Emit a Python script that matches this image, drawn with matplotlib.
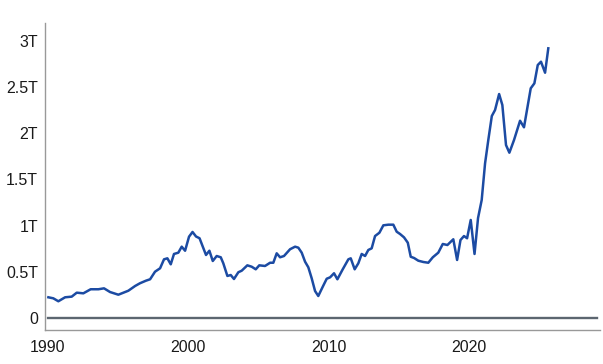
import matplotlib
matplotlib.use("Agg")
import matplotlib.pyplot as plt
from matplotlib.ticker import FuncFormatter

# Valori (anno decimale, trilioni)
years = [
    1990.06, 1990.41, 1990.77, 1991.25, 1991.72, 1992.08, 1992.55, 1993.07, 1993.62, 1994.02,
    1994.45, 1995.04, 1995.75, 1996.23, 1996.58, 1997.01, 1997.30, 1997.65, 1998.01, 1998.29,
    1998.53, 1998.77, 1999.00, 1999.31, 1999.55, 1999.79, 2000.07, 2000.32, 2000.57, 2000.82,
    2001.05, 2001.28, 2001.52, 2001.76, 2002.04, 2002.33, 2002.51, 2002.80, 2003.04, 2003.27,
    2003.58, 2003.82, 2004.22, 2004.53, 2004.82, 2005.07, 2005.48, 2005.84, 2006.07, 2006.31,
    2006.55, 2006.83, 2007.26, 2007.62, 2007.85, 2008.09, 2008.33, 2008.56, 2008.80, 2009.04,
    2009.27, 2009.59, 2009.87, 2010.11, 2010.39, 2010.63, 2011.01, 2011.41, 2011.58, 2011.86,
    2012.12, 2012.36, 2012.60, 2012.83, 2013.07, 2013.31, 2013.62, 2013.90, 2014.26, 2014.61,
    2014.85, 2015.09, 2015.37, 2015.64, 2015.85, 2016.09, 2016.39, 2016.75, 2017.10, 2017.42,
    2017.81, 2018.13, 2018.46, 2018.88, 2019.15, 2019.39, 2019.64, 2019.86, 2020.12, 2020.39,
    2020.64, 2020.90, 2021.14, 2021.37, 2021.62, 2021.85, 2022.14, 2022.37, 2022.63, 2022.87,
    2023.20, 2023.63, 2023.91, 2024.39, 2024.65, 2024.89, 2025.12, 2025.41, 2025.64,
]
values = [
    0.224, 0.213, 0.181, 0.224, 0.231, 0.274, 0.267, 0.311, 0.311, 0.321,
    0.281, 0.252, 0.295, 0.346, 0.376, 0.404, 0.419, 0.501, 0.538, 0.635,
    0.646, 0.581, 0.693, 0.707, 0.772, 0.728, 0.880, 0.931, 0.882, 0.863,
    0.772, 0.682, 0.728, 0.617, 0.671, 0.657, 0.592, 0.455, 0.465, 0.422,
    0.495, 0.512, 0.570, 0.555, 0.527, 0.570, 0.563, 0.598, 0.598, 0.700,
    0.657, 0.671, 0.744, 0.772, 0.761, 0.707, 0.609, 0.549, 0.430, 0.292,
    0.238, 0.339, 0.425, 0.440, 0.484, 0.419, 0.527, 0.635, 0.646, 0.527,
    0.592, 0.693, 0.671, 0.736, 0.754, 0.887, 0.923, 1.003, 1.010, 1.010,
    0.934, 0.909, 0.873, 0.815, 0.663, 0.649, 0.620, 0.606, 0.598, 0.657,
    0.707, 0.801, 0.790, 0.852, 0.628, 0.844, 0.887, 0.863, 1.061, 0.693,
    1.082, 1.277, 1.674, 1.926, 2.186, 2.251, 2.424, 2.305, 1.872, 1.789,
    1.926, 2.135, 2.064, 2.486, 2.540, 2.738, 2.774, 2.655, 2.919,
]

x_ticks = [1990, 2000, 2010, 2020]
y_ticks = [0, 0.5, 1, 1.5, 2, 2.5, 3]

plt.rcParams['font.family'] = ['Liberation Sans', 'DejaVu Sans']

fig = plt.figure(figsize=(6.03, 3.64), dpi=100)
ax = fig.add_axes([45 / 603, 1 - 330 / 364, 555 / 603, 307 / 364])

# Linea dello zero
ax.axhline(0, xmin=0.005, xmax=0.995, color='#5c6670', linewidth=1.7, zorder=1)

# Serie principale
ax.plot(years, values, color='#1c4ba3', linewidth=1.8, solid_joinstyle='round', zorder=2)

ax.set_xlim(1989.82, 2029.32)
ax.set_ylim(-0.13, 3.193)
ax.set_xticks(x_ticks)
ax.set_yticks(y_ticks)


def fmt_t(v, pos):
    if v == 0:
        return '0'
    return f'{v:g}T'


ax.yaxis.set_major_formatter(FuncFormatter(fmt_t))
ax.tick_params(axis='both', length=0, labelsize=11.5, colors='#1a1a1a')
ax.tick_params(axis='y', pad=5)
ax.tick_params(axis='x', pad=7)

for side in ['top', 'right']:
    ax.spines[side].set_visible(False)
for side in ['left', 'bottom']:
    ax.spines[side].set_color('#999999')
    ax.spines[side].set_linewidth(1.0)

fig.savefig('out.png', dpi=100)
plt.close(fig)
